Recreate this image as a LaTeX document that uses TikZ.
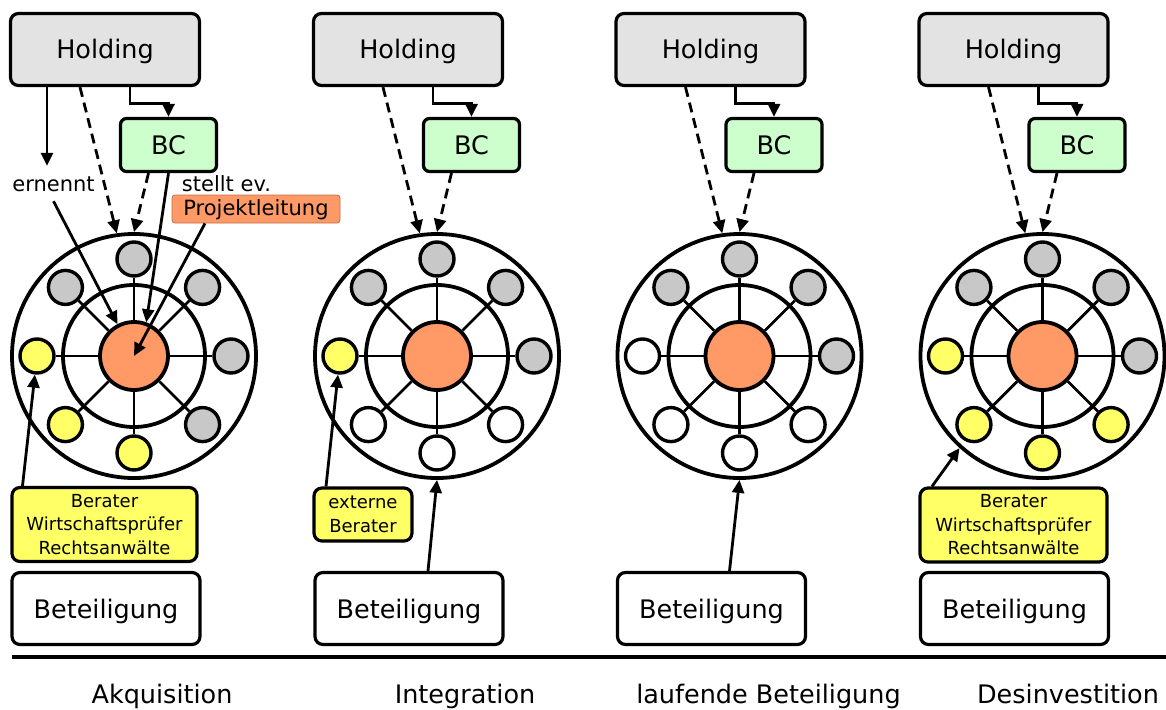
\documentclass[tikz,border=0pt]{standalone}
\usepackage{fontspec}
\setmainfont{DejaVu Sans}
\usetikzlibrary{arrows.meta,calc}

\definecolor{holdgray}{RGB}{227,227,227}
\definecolor{bcgreen}{RGB}{204,255,204}
\definecolor{peach}{RGB}{255,153,102}
\definecolor{membgray}{RGB}{200,200,200}
\definecolor{membyellow}{RGB}{255,255,102}
\definecolor{plborder}{RGB}{190,110,70}

\tikzset{
  every node/.style={font=\fontsize{25.5}{30}\selectfont},
  box/.style={draw, line width=3.2pt, rounded corners=8pt, inner sep=0pt},
  labelbox/.style={box, text height=19pt, text depth=0pt},
  holdbox/.style={labelbox, fill=holdgray, minimum width=189pt, minimum height=72pt},
  bcbox/.style={labelbox, fill=bcgreen, minimum width=96pt, minimum height=53pt, rounded corners=6pt},
  betbox/.style={labelbox, fill=white, minimum width=188pt, minimum height=72pt},
  advbox/.style={box, fill=membyellow, align=center, font=\fontsize{18}{23.5}\selectfont},
  ring/.style={circle, draw, line width=3.8pt, inner sep=0pt},
  member/.style={circle, draw, line width=3.4pt, minimum size=34pt, inner sep=0pt},
  core/.style={circle, draw, fill=peach, line width=3.8pt, minimum size=68pt, inner sep=0pt},
  spoke/.style={line width=2.8pt},
  link/.style={line width=2.8pt, -{Triangle[length=13pt,width=12pt]}},
  dlink/.style={link, dash pattern=on 10pt off 6pt},
  small/.style={font=\fontsize{21}{25}\selectfont},
  phase/.style={font=\fontsize{25.5}{30}\selectfont, anchor=base},
}

% One phase: holding, BC, the company ring and the Beteiligung box.
% #1 centre x of the ring, #2 name suffix, #3 member colours clockwise from top
\newcommand{\phasecolumn}[3]{%
  \node[holdbox] (hold#2) at ({#1-29},49.5) {Holding};
  \node[bcbox] (bc#2) at ({#1+34.5},145) {BC};
  \node[ring, fill=white, minimum size=244pt] (outer#2) at (#1,356) {};
  \node[ring, minimum size=142pt] (inner#2) at (#1,356) {};
  \node[core] (core#2) at (#1,356) {};
  \foreach \c [count=\k] in {#3} {
    \pgfmathsetmacro\a{-90+45*(\k-1)}
    \node[member, fill=\c] (m#2-\k) at ({#1+97*cos(\a)},{356+97*sin(\a)}) {};
    \draw[spoke] (core#2) -- (m#2-\k);
  }
  \node[betbox] (bet#2) at ({#1-28},608.5) {Beteiligung};
  \draw[link] ([xshift=25pt]hold#2.south) -- ++(0,16) -| (bc#2.north);
  \draw[dlink] ([xshift=-25pt]hold#2.south) -- (outer#2.98);
  \draw[dlink] ([xshift=-20pt]bc#2.south) -- (outer#2.north);
}

\begin{document}
\begin{tikzpicture}[x=1pt, y=-1pt]
  \useasboundingbox (0,0) rectangle (1166,709);

  \phasecolumn{134}{1}{membgray,membgray,membgray,membgray,membyellow,membyellow,membyellow,membgray}
  \phasecolumn{437}{2}{membgray,membgray,membgray,white,white,white,membyellow,membgray}
  \phasecolumn{739.5}{3}{membgray,membgray,membgray,white,white,white,white,membgray}
  \phasecolumn{1042.5}{4}{membgray,membgray,membgray,membyellow,membyellow,membyellow,membyellow,membgray}

  % Akquisition: appointment and project lead
  \node[small, anchor=base, inner xsep=0pt, inner ysep=10pt, text height=15pt, text depth=0pt]
    (ern) at (53.5,191) {ernennt};
  \draw[link] ([xshift=-58pt]hold1.south) -- ([xshift=-58pt]hold1.south |- ern.north);
  \draw[link] (ern.south) -- (core1);
  \draw[link] (bc1.south) -- (core1.70);
  \node[small, anchor=base] (stellt) at (226.5,191) {stellt ev.};
  \node[small, draw=plborder, line width=0.8pt, fill=peach, rounded corners=3pt,
        minimum width=168pt, minimum height=28pt, inner sep=0pt,
        text height=13pt, text depth=0pt] (pl) at (256,209) {Projektleitung};
  \draw[link] ([xshift=-51pt]pl.south) -- (core1.center);

  % advisers
  \node[advbox, minimum width=185pt, minimum height=74pt] (adv1) at (104.5,524.5)
    {Berater\\Wirtschaftsprüfer\\Rechtsanwälte};
  \draw[link] ([xshift=-82pt]adv1.north) -- (m1-7);
  \node[advbox, minimum width=98pt, minimum height=53pt] (adv2) at (363,514.5)
    {externe\\Berater};
  \draw[link] ([xshift=-37pt]adv2.north) -- (m2-7);
  \node[advbox, minimum width=187pt, minimum height=74pt] (adv4) at (1013.5,525)
    {Berater\\Wirtschaftsprüfer\\Rechtsanwälte};
  \draw[link] ([xshift=-81.5pt]adv4.north) -- (outer4.228);

  % Beteiligung reporting upward
  \draw[link] ([xshift=19pt]bet2.north) -- (outer2.south);
  \draw[link] ([xshift=18pt]bet3.north) -- (outer3.south);

  % timeline
  \coordinate (axisL) at (12,657);
  \coordinate (axisR) at (1166,657);
  \draw[line width=3.2pt] (axisL) -- (axisR);
  \node[phase] (ph1) at (162,703) {Akquisition};
  \node[phase] (ph2) at (465,703) {Integration};
  \node[phase] (ph3) at (768.5,703) {laufende Beteiligung};
  \node[phase] (ph4) at (1068,703) {Desinvestition};
\end{tikzpicture}
\end{document}
